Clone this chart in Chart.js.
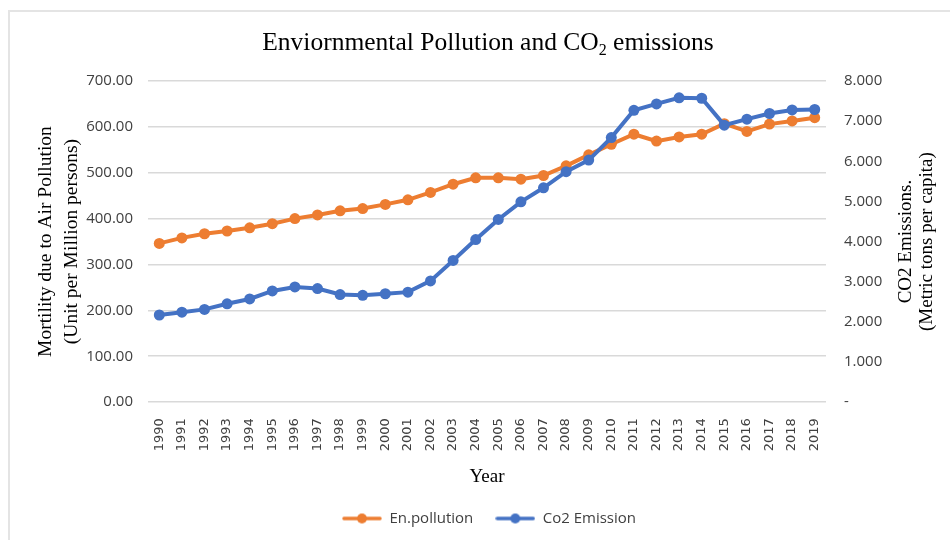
<!DOCTYPE html>
<html>
<head>
<meta charset="utf-8">
<script src="https://cdn.jsdelivr.net/npm/chart.js@4.4.1/dist/chart.umd.min.js"></script>
<style>
  html, body { margin: 0; padding: 0; background: #fff; }
  #wrap { position: relative; width: 950px; height: 540px; overflow: hidden; }
  #frame { position: absolute; left: 8px; top: 10px; width: 960px; height: 560px;
           border-left: 2px solid #e4e4e4; border-top: 2px solid #e4e4e4; }
  #title { position: absolute; top: 29px; left: 188px; width: 600px; text-align: center;
           font-family: "Liberation Serif", "Times New Roman", serif; font-size: 25.5px;
           line-height: 1; color: #000; }
  #title sub { font-size: 16px; vertical-align: -5px; }
  canvas { position: absolute; left: 0; top: 0; }
</style>
</head>
<body>
<div id="wrap">
  <div id="frame"></div>
  <canvas id="chart" width="950" height="540"></canvas>
  <div id="title">Enviornmental Pollution and CO<sub>2</sub> emissions</div>
</div>
<script>
// data
const years = ['1990', '1991', '1992', '1993', '1994', '1995', '1996', '1997', '1998', '1999',
  '2000', '2001', '2002', '2003', '2004', '2005', '2006', '2007', '2008', '2009',
  '2010', '2011', '2012', '2013', '2014', '2015', '2016', '2017', '2018', '2019'];

const pollution = [346, 358, 367, 373, 380, 389, 400, 408, 417, 422,
  431, 441, 457, 475, 489, 489, 486, 494, 515, 539,
  562, 584, 569, 578, 584, 607, 590, 606, 613, 620];

const co2 = [2.17, 2.24, 2.31, 2.45, 2.57, 2.77, 2.87, 2.83, 2.68, 2.66,
  2.70, 2.74, 3.02, 3.53, 4.05, 4.55, 4.99, 5.34, 5.74, 6.03,
  6.59, 7.27, 7.43, 7.58, 7.57, 6.90, 7.05, 7.19, 7.28, 7.29];

const leftTitle = ['Mortility due to Air Pollution', '(Unit per Million persons)'];
const rightTitle = ['CO2 Emissions.', '(Metric tons per capita)'];

const ORANGE = '#ED7D31';
const BLUE = '#4472C4';
const TICK_COLOR = '#404040';
const GRID_COLOR = '#d9d9d9';
const SERIF = '"Liberation Serif", "Times New Roman", serif';
const SANS = '"Open Sans", "Liberation Sans", sans-serif';

// small line + dot marker for the legend
function legendMarker(color) {
  const c = document.createElement('canvas');
  c.width = 40;
  c.height = 12;
  const g = c.getContext('2d');
  g.strokeStyle = color;
  g.lineWidth = 3.5;
  g.lineCap = 'round';
  g.beginPath();
  g.moveTo(2, 6);
  g.lineTo(38, 6);
  g.stroke();
  g.fillStyle = color;
  g.beginPath();
  g.arc(20, 6, 5, 0, Math.PI * 2);
  g.fill();
  return c;
}
const markers = [legendMarker(ORANGE), legendMarker(BLUE)];

// right axis title reads bottom-to-top like the left one, so draw it by hand
const rightTitlePlugin = {
  id: 'rightTitle',
  afterDraw(chart) {
    const area = chart.chartArea;
    const ctx = chart.ctx;
    const cy = (area.top + area.bottom) / 2;
    ctx.save();
    ctx.fillStyle = '#000';
    ctx.font = '19px ' + SERIF;
    ctx.textAlign = 'center';
    ctx.textBaseline = 'middle';
    const xs = [906, 927];
    rightTitle.forEach((line, i) => {
      ctx.save();
      ctx.translate(xs[i], cy);
      ctx.rotate(-Math.PI / 2);
      ctx.fillText(line, 0, 0);
      ctx.restore();
    });
    ctx.restore();
  }
};

const ctx = document.getElementById('chart').getContext('2d');
new Chart(ctx, {
  type: 'line',
  data: {
    labels: years,
    datasets: [
      {
        label: 'En.pollution',
        data: pollution,
        yAxisID: 'y',
        borderColor: ORANGE,
        backgroundColor: ORANGE,
        borderWidth: 4,
        pointRadius: 5.5,
        pointBorderWidth: 0,
        pointBackgroundColor: ORANGE,
        tension: 0,
        order: 1
      },
      {
        label: 'Co2 Emission',
        data: co2,
        yAxisID: 'y1',
        borderColor: BLUE,
        backgroundColor: BLUE,
        borderWidth: 4,
        pointRadius: 5.5,
        pointBorderWidth: 0,
        pointBackgroundColor: BLUE,
        tension: 0,
        order: 0
      }
    ]
  },
  options: {
    responsive: false,
    animation: false,
    layout: {
      padding: { top: 81, left: 33, right: 5, bottom: 4 }
    },
    plugins: {
      title: { display: false },
      tooltip: { enabled: false },
      legend: {
        position: 'bottom',
        labels: {
          usePointStyle: true,
          pointStyleWidth: 40,
          padding: 22,
          color: TICK_COLOR,
          font: { family: SANS, size: 15 },
          sort: (a, b) => a.datasetIndex - b.datasetIndex,
          generateLabels(chart) {
            const items = Chart.defaults.plugins.legend.labels.generateLabels(chart);
            items.forEach(item => { item.pointStyle = markers[item.datasetIndex]; });
            return items;
          }
        }
      }
    },
    scales: {
      x: {
        offset: true,
        grid: { display: false },
        border: { display: false },
        ticks: {
          autoSkip: false,
          maxRotation: 90,
          minRotation: 90,
          padding: 8,
          color: TICK_COLOR,
          font: { family: '"DejaVu Sans", sans-serif', size: 13 }
        },
        title: {
          display: true,
          text: 'Year',
          color: '#000',
          padding: { top: 6, bottom: 1 },
          font: { family: SERIF, size: 19 }
        }
      },
      y: {
        position: 'left',
        min: 0,
        max: 700,
        grid: { color: GRID_COLOR, lineWidth: 1.5, drawTicks: false },
        border: { display: false },
        ticks: {
          stepSize: 100,
          padding: 15,
          color: TICK_COLOR,
          font: { family: SANS, size: 15 },
          callback: v => v.toFixed(2)
        },
        title: {
          display: true,
          text: leftTitle,
          color: '#000',
          padding: { top: 0, bottom: 0 },
          font: { family: SERIF, size: 19.5, lineHeight: 1.32 }
        },
        afterFit(scale) { scale.width = 115; }
      },
      y1: {
        position: 'right',
        min: 0,
        max: 8,
        grid: { display: false, drawTicks: false },
        border: { display: false },
        ticks: {
          stepSize: 1,
          padding: 18,
          color: TICK_COLOR,
          font: { family: SANS, size: 15 },
          callback: v => (v === 0 ? '-' : v.toFixed(3))
        },
        afterFit(scale) { scale.width = 119; }
      }
    }
  },
  plugins: [rightTitlePlugin]
});
</script>
</body>
</html>
